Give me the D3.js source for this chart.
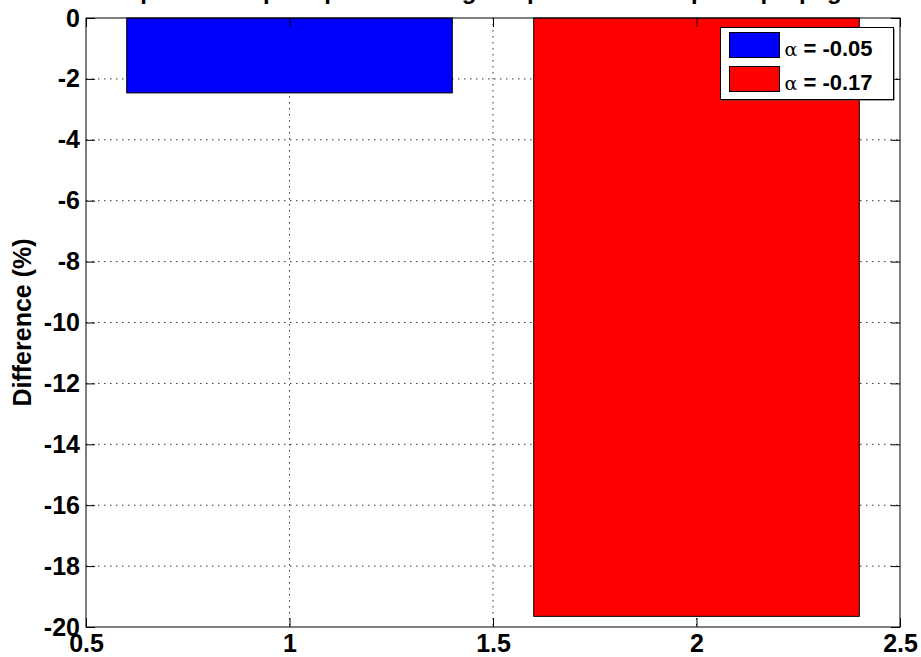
<!DOCTYPE html>
<html><head><meta charset="utf-8">
<script src="https://cdn.jsdelivr.net/npm/d3@7"></script>
<style>body{margin:0;background:#fff;} svg{display:block;}</style>
</head><body>
<script>
const categories = [1, 2];
const values = [-2.46, -19.65];
const seriesLabels = ["-0.05", "-0.17"];
const colors = ["#0000ff", "#ff0000"];
const xTicks = [0.5, 1, 1.5, 2, 2.5];
const yTicks = [0, -2, -4, -6, -8, -10, -12, -14, -16, -18, -20];
const titleText = "Comparison of peak power during chirped Gaussian pulse propagation";
const yLabel = "Difference (%)";

const W = 921, H = 657;
const m = {l: 86, r: 21, t: 18, b: 30};
const svg = d3.select("body").append("svg").attr("width", W).attr("height", H);
const x = d3.scaleLinear().domain([0.5, 2.5]).range([m.l, W - m.r]);
const y = d3.scaleLinear().domain([-20, 0]).range([H - m.b, m.t]);
const font = "'Liberation Sans',Arial,Helvetica,sans-serif";

// grid
const g = svg.append("g");
g.selectAll("line.vx").data(xTicks.slice(1, -1)).join("line")
  .attr("x1", d => x(d)).attr("x2", d => x(d)).attr("y1", y(0)).attr("y2", y(-20))
  .attr("stroke", "#333").attr("stroke-width", 1).attr("stroke-dasharray", "1.5,4.5");
g.selectAll("line.hy").data(yTicks.slice(1, -1)).join("line")
  .attr("y1", d => y(d)).attr("y2", d => y(d)).attr("x1", x(0.5)).attr("x2", x(2.5))
  .attr("stroke", "#333").attr("stroke-width", 1).attr("stroke-dasharray", "1.5,4.5");

// bars
const bw = 0.8;
svg.selectAll("rect.bar").data(categories).join("rect")
  .attr("x", (d) => x(d - bw / 2)).attr("width", (d) => x(d + bw / 2) - x(d - bw / 2))
  .attr("y", y(0)).attr("height", (d, i) => y(values[i]) - y(0))
  .attr("fill", (d, i) => colors[i]).attr("stroke", "#000").attr("stroke-width", 1);

// axes with inward ticks on all sides
const tl = 9;
const fmt = d => String(d);
svg.append("g").attr("transform", `translate(0,${y(-20)})`)
  .call(d3.axisBottom(x).tickValues(xTicks).tickSize(-tl).tickPadding(7).tickFormat(fmt))
  .call(a => { a.select(".domain").remove(); });
svg.append("g").attr("transform", `translate(0,${y(0)})`)
  .call(d3.axisTop(x).tickValues(xTicks).tickSize(-tl).tickFormat(""))
  .call(a => a.select(".domain").remove());
svg.append("g").attr("transform", `translate(${x(0.5)},0)`)
  .call(d3.axisLeft(y).tickValues(yTicks).tickSize(-tl).tickPadding(6).tickFormat(fmt))
  .call(a => a.select(".domain").remove());
svg.append("g").attr("transform", `translate(${x(2.5)},0)`)
  .call(d3.axisRight(y).tickValues(yTicks).tickSize(-tl).tickFormat(""))
  .call(a => a.select(".domain").remove());
svg.selectAll(".tick text").attr("font-family", font).attr("font-weight", "bold").attr("font-size", 25).attr("fill", "#000");
svg.selectAll(".tick line").attr("stroke", "#000");
svg.append("rect").attr("x", x(0.5)).attr("y", y(0)).attr("width", x(2.5) - x(0.5)).attr("height", y(-20) - y(0))
  .attr("fill", "none").attr("stroke", "#000").attr("stroke-width", 1);

// y label
svg.append("text").attr("transform", `translate(31,${(y(0) + y(-20)) / 2}) rotate(-90)`)
  .attr("text-anchor", "middle").attr("font-family", font)
  .attr("font-weight", "bold").attr("font-size", 25).text(yLabel);

// title (mostly clipped above the top, as in the reference)
svg.append("text").attr("x", (x(0.5) + x(2.5)) / 2).attr("y", -1).attr("text-anchor", "middle")
  .attr("font-family", font).attr("font-weight", "bold").attr("font-size", 24)
  .text(titleText);

// legend
const lg = svg.append("g").attr("transform", "translate(720.5,27.5)");
lg.append("rect").attr("x", 1).attr("y", 1).attr("width", 173).attr("height", 72).attr("fill", "#444");
lg.append("rect").attr("width", 173).attr("height", 72).attr("fill", "#fff").attr("stroke", "#000").attr("stroke-width", 1);
seriesLabels.forEach((s, i) => {
  const yy = 5 + i * 34;
  lg.append("rect").attr("x", 9).attr("y", yy).attr("width", 50).attr("height", 25)
    .attr("fill", colors[i]).attr("stroke", "#000").attr("stroke-width", 1);
  const t = lg.append("text").attr("x", 64).attr("y", yy + 23).attr("font-family", font)
    .attr("font-weight", "bold").attr("font-size", 22);
  t.append("tspan").attr("font-family", "'DejaVu Serif','Liberation Serif',serif").attr("font-weight", "normal").attr("font-size", 19).text("α");
  t.append("tspan").text(" = " + s);
});
</script>
</body></html>
